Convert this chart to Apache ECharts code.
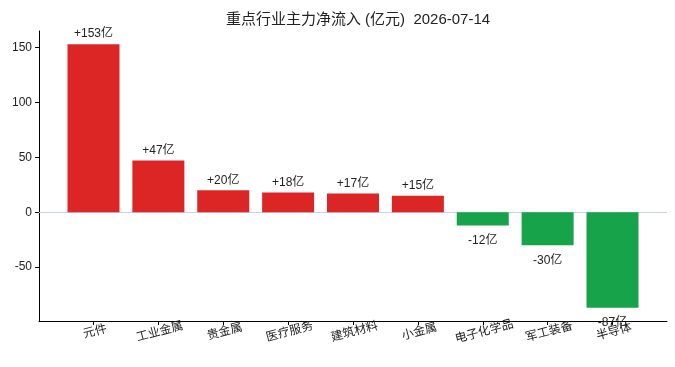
<!DOCTYPE html>
<html>
<head>
<meta charset="utf-8">
<script src="https://cdn.jsdelivr.net/npm/echarts@6/dist/echarts.min.js"></script>
<style>
  html, body { margin: 0; padding: 0; background: #fff; }
  #main { width: 675px; height: 367px; }
</style>
</head>
<body>
<div id="main"></div>
<script>
// 行业名称与净流入(亿元)
var categories = ['元件', '工业金属', '贵金属', '医疗服务', '建筑材料', '小金属', '电子化学品', '军工装备', '半导体'];
var inflow = [153, 47, 20, 18, 17, 15, -12, -30, -87];
var yTicks = [-50, 0, 50, 100, 150];
var xTicks = [0, 1, 2, 3, 4, 5, 6, 7, 8];

var FONT = '"Liberation Sans", "Noto Sans CJK SC", sans-serif';
var RED = '#dc2626';
var GREEN = '#16a34a';

var chart = echarts.init(document.getElementById('main'));

var barData = inflow.map(function (v, i) {
    return {
        value: [i, v],
        itemStyle: { color: v >= 0 ? RED : GREEN },
        label: {
            position: v >= 0 ? 'top' : 'bottom',
            distance: v >= 0 ? 4 : 9
        }
    };
});

var option = {
    backgroundColor: '#fff',
    animation: false,
    title: {
        text: '重点行业主力净流入 (亿元)  2026-07-14',
        left: 353,
        top: 7,
        textAlign: 'center',
        textStyle: { fontFamily: FONT, fontSize: 15, fontWeight: 'normal', color: '#222' }
    },
    grid: { left: 39, right: 8, top: 31, bottom: 46 },
    xAxis: {
        type: 'value',
        min: -0.84,
        max: 8.84,
        splitLine: { show: false },
        axisLine: { onZero: false, lineStyle: { color: '#000', width: 1 } },
        axisTick: { show: true, length: 4, customValues: xTicks, lineStyle: { color: '#000' } },
        axisLabel: {
            customValues: xTicks,
            rotate: 15,
            align: 'center',
            verticalAlign: 'top',
            margin: 5,
            fontFamily: FONT,
            fontSize: 12,
            color: '#222',
            formatter: function (v) { return categories[Math.round(v)] || ''; }
        }
    },
    yAxis: {
        type: 'value',
        min: -99,
        max: 165,
        splitLine: { show: false },
        axisLine: { show: true, onZero: false, lineStyle: { color: '#000', width: 1 } },
        axisTick: { show: true, length: 4, customValues: yTicks, lineStyle: { color: '#000' } },
        axisLabel: {
            customValues: yTicks,
            margin: 7,
            fontFamily: FONT,
            fontSize: 12,
            color: '#222'
        }
    },
    series: [{
        type: 'bar',
        barWidth: 52,
        data: barData,
        label: {
            show: true,
            fontFamily: FONT,
            fontSize: 12,
            color: '#222',
            formatter: function (p) {
                var v = p.value[1];
                return (v > 0 ? '+' : '') + v + '亿';
            }
        },
        markLine: {
            silent: true,
            symbol: 'none',
            label: { show: false },
            lineStyle: { color: '#c5d3e2', width: 1, type: 'solid' },
            data: [{ yAxis: 0 }],
            z: 1
        }
    }]
};

chart.setOption(option);
</script>
</body>
</html>
